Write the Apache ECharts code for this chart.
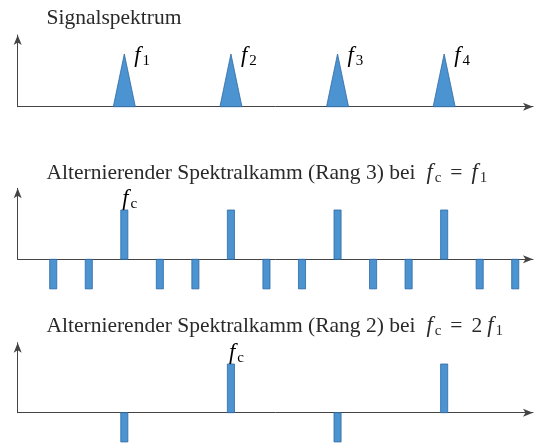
<!DOCTYPE html>
<html>
<head>
<meta charset="utf-8">
<script src="https://cdn.jsdelivr.net/npm/echarts@6/dist/echarts.min.js"></script>
<style>
html,body{margin:0;padding:0;background:#fff;}
#chart{width:536px;height:445px;}
</style>
</head>
<body>
<div id="chart"></div>
<script>
// ---- data (x in units of f1/3, so f1 = 3) ----
const signalFreqs = [3, 6, 9, 12];
const signalAmps = [1, 1, 1, 1];
const signalLabels = ['1', '2', '3', '4'];

const comb3Pos = [1, 2, 3, 4, 5, 6, 7, 8, 9, 10, 11, 12, 13, 14];
const comb3Amp = [-0.6, -0.6, 1, -0.6, -0.6, 1, -0.6, -0.6, 1, -0.6, -0.6, 1, -0.6, -0.6];
const comb3Label = ['', '', 'c', '', '', '', '', '', '', '', '', '', '', ''];

const comb2Pos = [3, 6, 9, 12];
const comb2Amp = [-0.6, 1, -0.6, 1];
const comb2Label = ['', 'c', '', ''];

const titles = [
  'Signalspektrum',
  '{n|Alternierender Spektralkamm (Rang 3) bei}{i2|f}{s|c}{e|=}{i|f}{s|1}',
  '{n|Alternierender Spektralkamm (Rang 2) bei}{i2|f}{s|c}{e|=}{n|2}{i3|f}{s|1}'
];

// ---- style ----
const FONT = 'Liberation Serif';
const FILL = '#4b93d1';
const STROKE = '#2f6aa3';
const AXIS = '#444';
const TXT = '#2a2a2a';
const X_MAX = 14.5;
const TRI_HW = 0.31;
const BAR_W = 0.2;

const richMath = {
  n: {fontFamily: FONT, fontSize: 21.5, color: TXT},
  i: {fontFamily: FONT, fontSize: 22.5, fontStyle: 'italic', color: TXT},
  i2: {fontFamily: FONT, fontSize: 22.5, fontStyle: 'italic', color: TXT, padding: [0, 0, 0, 11]},
  i3: {fontFamily: FONT, fontSize: 22.5, fontStyle: 'italic', color: TXT, padding: [0, 0, 0, 5]},
  e: {fontFamily: FONT, fontSize: 21.5, color: TXT, padding: [0, 9, 0, 9]},
  s: {fontFamily: FONT, fontSize: 15, color: TXT, padding: [10, 0, 0, 2]}
};

function xAx(gi) {
  return {
    gridIndex: gi, type: 'value', min: 0, max: X_MAX,
    axisLine: {show: true, onZero: true, symbol: ['none', 'arrow'], symbolSize: [6, 10], lineStyle: {color: AXIS, width: 1}},
    axisTick: {show: false}, axisLabel: {show: false}, splitLine: {show: false}
  };
}
function yAx(gi, max) {
  return {
    gridIndex: gi, type: 'value', min: 0, max: max,
    axisLine: {show: true, symbol: ['none', 'arrow'], symbolSize: [6, 10], lineStyle: {color: AXIS, width: 1}},
    axisTick: {show: false}, axisLabel: {show: false}, splitLine: {show: false}
  };
}

function triRender(params, api) {
  const x = api.value(0), a = api.value(1);
  const b = api.coord([x, 0]);
  const t = api.coord([x, a]);
  const hw = api.size([TRI_HW, 0])[0];
  const lab = signalLabels[params.dataIndex];
  return {
    type: 'group',
    children: [
      {type: 'polygon', shape: {points: [[b[0] - hw, b[1]], [t[0], t[1]], [b[0] + hw, b[1]]]},
       style: {fill: FILL, stroke: STROKE, lineWidth: 0.8}},
      {type: 'text', x: t[0] + 10, y: t[1] + 2,
       style: {text: '{i|f}{s|' + lab + '}', rich: richMath, verticalAlign: 'middle', align: 'left'}}
    ]
  };
}

function barRender(labels) {
  return function (params, api) {
    const x = api.value(0), a = api.value(1);
    const b = api.coord([x, 0]);
    const t = api.coord([x, a]);
    const w = api.size([BAR_W, 0])[0];
    const children = [
      {type: 'rect', shape: {x: b[0] - w / 2, y: Math.min(b[1], t[1]), width: w, height: Math.abs(t[1] - b[1])},
       style: {fill: FILL, stroke: STROKE, lineWidth: 0.8}}
    ];
    const lab = labels[params.dataIndex];
    if (lab) {
      children.push({type: 'text', x: t[0] - 2, y: t[1] + 2,
        style: {text: '{i|f}{s|' + lab + '}', rich: richMath, verticalAlign: 'bottom', align: 'left'}});
    }
    return {type: 'group', children: children};
  };
}

const chart = echarts.init(document.getElementById('chart'), null, {renderer: 'canvas'});
const titleStyle = {rich: richMath, fontFamily: FONT, fontSize: 21.5, fontWeight: 'normal', color: TXT};
chart.setOption({
  animation: false,
  backgroundColor: '#fff',
  title: [
    {text: titles[0], left: 46.5, top: 7, padding: 0, textStyle: titleStyle},
    {text: titles[1], left: 46.5, top: 161, padding: 0, textStyle: titleStyle},
    {text: titles[2], left: 46.5, top: 314, padding: 0, textStyle: titleStyle}
  ],
  grid: [
    {left: 17.7, top: 35, width: 515.3, height: 71.7},
    {left: 17.7, top: 188.3, width: 515.3, height: 71},
    {left: 17.7, top: 342.7, width: 515.3, height: 70}
  ],
  xAxis: [xAx(0), xAx(1), xAx(2)],
  yAxis: [yAx(0, 1.36), yAx(1, 1.44), yAx(2, 1.437)],
  series: [
    {type: 'custom', xAxisIndex: 0, yAxisIndex: 0, clip: false, renderItem: triRender,
     data: signalFreqs.map((f, i) => [f, signalAmps[i]])},
    {type: 'custom', xAxisIndex: 1, yAxisIndex: 1, clip: false, renderItem: barRender(comb3Label),
     data: comb3Pos.map((f, i) => [f, comb3Amp[i]])},
    {type: 'custom', xAxisIndex: 2, yAxisIndex: 2, clip: false, renderItem: barRender(comb2Label),
     data: comb2Pos.map((f, i) => [f, comb2Amp[i]])}
  ]
});
</script>
</body>
</html>
